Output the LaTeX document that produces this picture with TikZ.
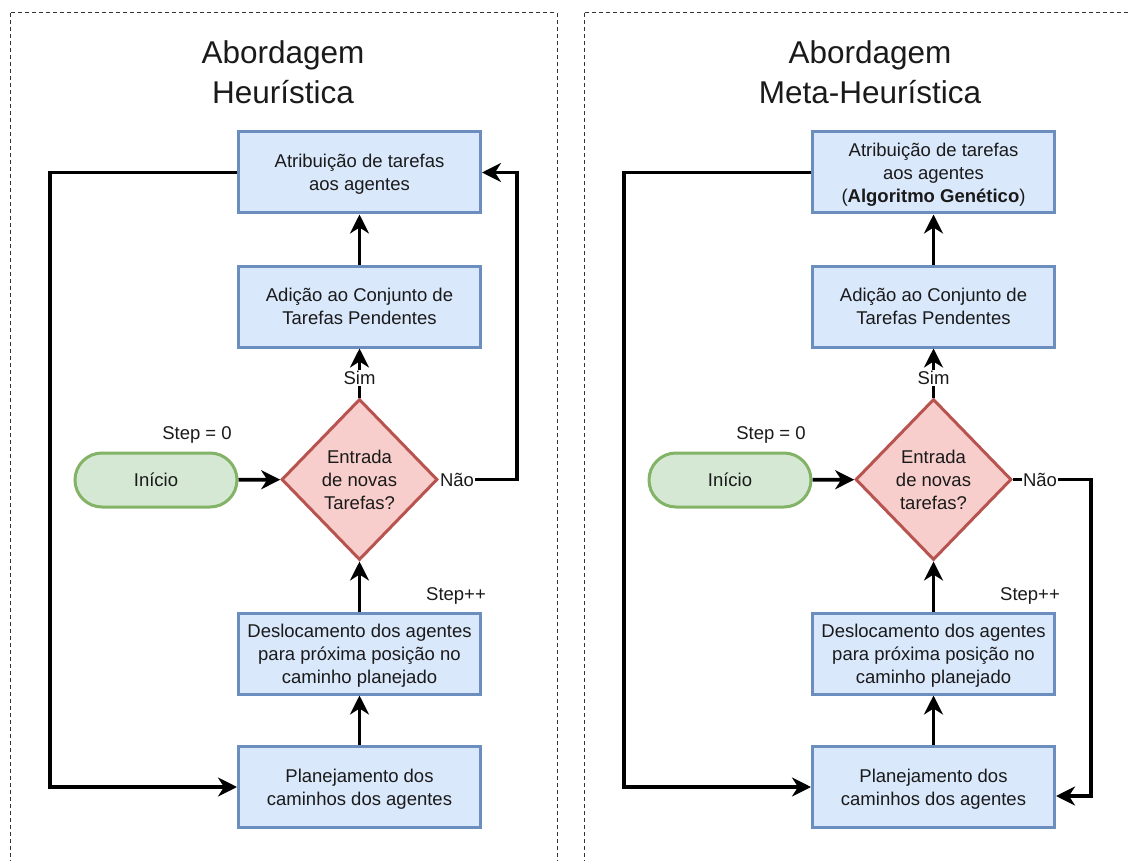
\documentclass[tikz,border=0pt]{standalone}
\usepackage{fontspec}
\setmainfont{Liberation Sans}
\usetikzlibrary{shapes.geometric,arrows.meta,calc}

\definecolor{boxfill}{HTML}{DAE8FC}
\definecolor{boxdraw}{HTML}{6C8EBF}
\definecolor{decfill}{HTML}{F8CECC}
\definecolor{decdraw}{HTML}{B85450}
\definecolor{startfill}{HTML}{D5E8D4}
\definecolor{startdraw}{HTML}{82B366}
\definecolor{framecol}{HTML}{333333}
\definecolor{ink}{HTML}{1A1A1A}

\begin{document}
\begin{tikzpicture}[x=1pt,y=-1pt,
  every node/.style={font=\fontsize{18.5}{23}\selectfont, text=ink, text depth=0pt},
  procbox/.style={rectangle, draw=boxdraw, fill=boxfill, line width=3pt,
    minimum width=242pt, minimum height=81pt, align=center, inner sep=0pt},
  decision/.style={diamond, draw=decdraw, fill=decfill, line width=3pt,
    minimum width=156pt, minimum height=161pt, align=center, inner sep=0pt},
  startbox/.style={rectangle, rounded corners=27pt, draw=startdraw, fill=startfill,
    line width=3pt, minimum width=162pt, minimum height=54pt, inner sep=0pt},
  conn/.style={draw=black, line width=3.6pt, -{Stealth[length=19pt,width=19pt,inset=6pt]}},
  lbl/.style={fill=white, inner sep=1pt},
  note/.style={inner sep=0pt},
  title/.style={font=\fontsize{31.5}{40}\selectfont, align=center},
  frame/.style={draw=framecol, line width=1pt, dash pattern=on 4pt off 3pt}]

\useasboundingbox (0,0) rectangle (1130,861);
\clip (0,0) rectangle (1130,861);

% dashed panels
\draw[frame] (10,13) rectangle (557,900);
\draw[frame] (584,13) rectangle (1131,900);

% ---------------- heuristic approach ----------------
\node[title] (ht) at (283,72) {Abordagem\\Heurística};

\node[procbox] (h1) at (359.5,172.5) {Atribuição de tarefas\\aos agentes};
\node[procbox] (h2) at (359.5,306.5) {Adição ao Conjunto de\\Tarefas Pendentes};
\node[decision] (hd) at (359.5,479.5) {Entrada\\de novas\\Tarefas?};
\node[procbox] (h4) at (359.5,653.5) {Deslocamento dos agentes\\para próxima posição no\\caminho planejado};
\node[procbox] (h5) at (359.5,787) {Planejamento dos\\caminhos dos agentes};
\node[startbox] (hs) at (156,480) {Início};

\coordinate (hL) at (50,172.5);
\coordinate (hR) at (517,479.5);

\draw[conn] (hs) -- (hd);
\draw[conn] (hd) -- (h2);
\draw[conn] (h2) -- (h1);
\draw[conn] (h5) -- (h4);
\draw[conn] (h4) -- (hd);
\draw[conn] (h1.west) -- (hL) |- (h5.west);
\draw[conn] (hd.east) -- (hR) |- (h1.east);

\node[lbl] (hsim) at (359.5,378) {Sim};
\node[lbl] (hnao) at (457,480) {Não};
\node[note] (hst0) at (197,433) {Step = 0};
\node[note] (hstp) at (456,594) {Step++};

% ---------------- meta-heuristic approach ----------------
\node[title] (mt) at (870,72) {Abordagem\\Meta-Heurística};

\node[procbox] (m1) at (933.5,172.5) {Atribuição de tarefas\\aos agentes\\(\textbf{Algoritmo Genético})};
\node[procbox] (m2) at (933.5,306.5) {Adição ao Conjunto de\\Tarefas Pendentes};
\node[decision] (md) at (933.5,479.5) {Entrada\\de novas\\tarefas?};
\node[procbox] (m4) at (933.5,653.5) {Deslocamento dos agentes\\para próxima posição no\\caminho planejado};
\node[procbox] (m5) at (933.5,787) {Planejamento dos\\caminhos dos agentes};
\node[startbox] (ms) at (730,480) {Início};

\coordinate (mL) at (624,172.5);
\coordinate (mR) at (1091,479.5);

\draw[conn] (ms) -- (md);
\draw[conn] (md) -- (m2);
\draw[conn] (m2) -- (m1);
\draw[conn] (m5) -- (m4);
\draw[conn] (m4) -- (md);
\draw[conn] (m1.west) -- (mL) |- (m5.west);
\draw[conn] (md.east) -- (mR) |- ([yshift=-9pt]m5.east);

\node[lbl] (msim) at (933.5,378) {Sim};
\node[lbl] (mnao) at (1040,480) {Não};
\node[note] (mst0) at (771,433) {Step = 0};
\node[note] (mstp) at (1030,594) {Step++};
\end{tikzpicture}
\end{document}
